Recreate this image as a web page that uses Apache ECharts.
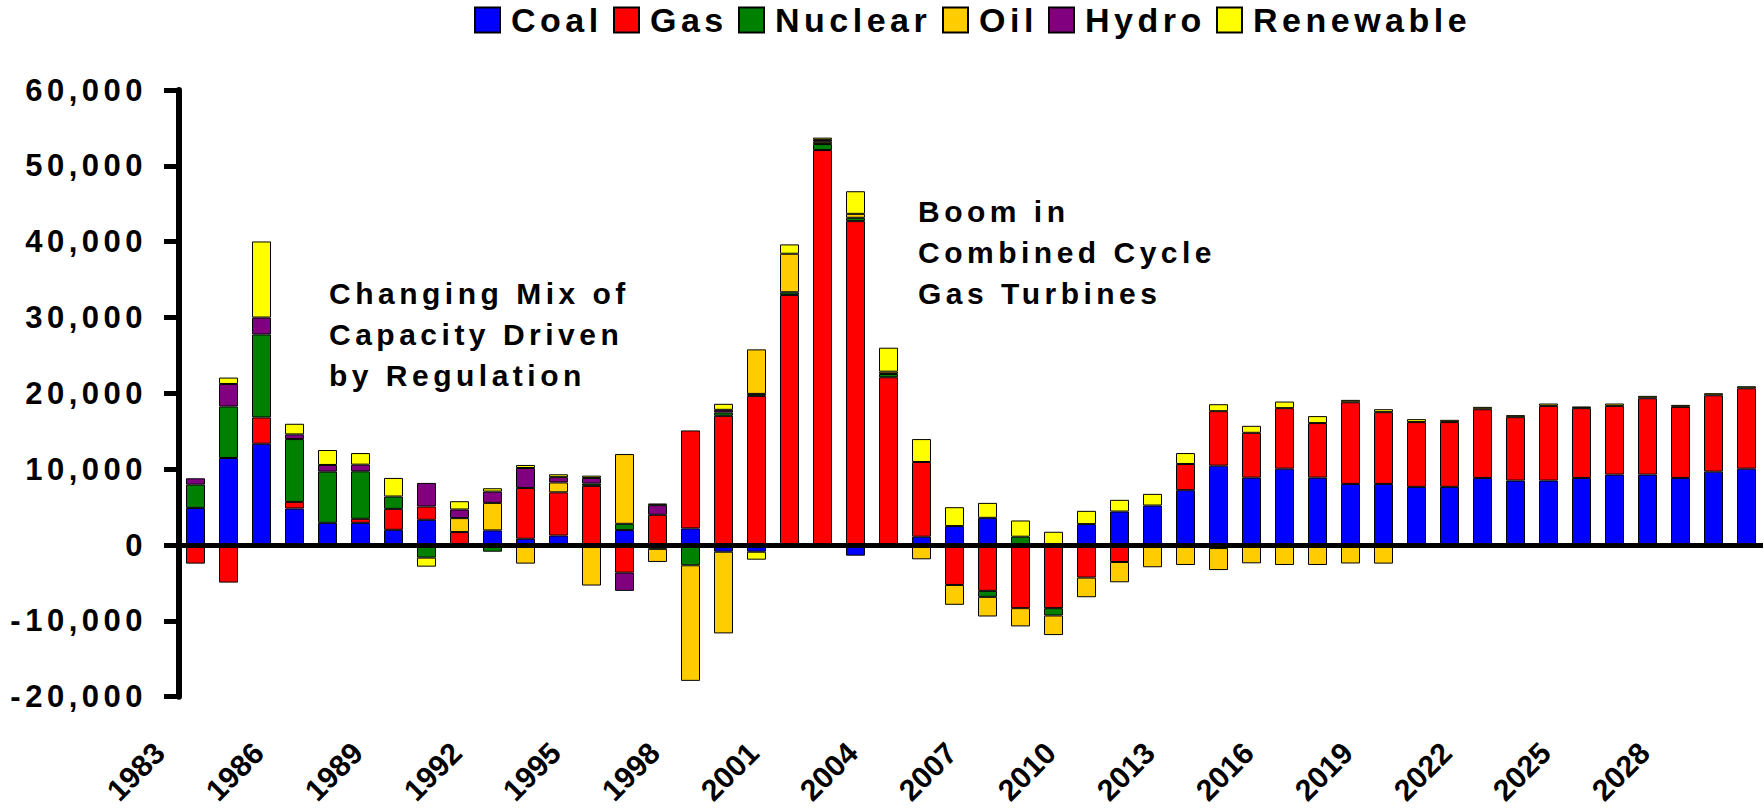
<!DOCTYPE html>
<html>
<head>
<meta charset="utf-8">
<script src="https://cdn.jsdelivr.net/npm/echarts@6/dist/echarts.min.js"></script>
<style>
  html, body { margin: 0; padding: 0; background: #fff; }
  #chart { width: 1764px; height: 808px; letter-spacing: 4.5px; }
  /* the year labels are the only 30.2px texts, and they are set tight */
  #chart text[style*="30.2px"] { letter-spacing: 0; }
</style>
</head>
<body>
<div id="chart"></div>
<script>
const years = [
  "1983", "1984", "1985", "1986", "1987", "1988", "1989", "1990", "1991", "1992",
  "1993", "1994", "1995", "1996", "1997", "1998", "1999", "2000", "2001", "2002",
  "2003", "2004", "2005", "2006", "2007", "2008", "2009", "2010", "2011", "2012",
  "2013", "2014", "2015", "2016", "2017", "2018", "2019", "2020", "2021", "2022",
  "2023", "2024", "2025", "2026", "2027", "2028", "2029", "2030"
]

// capacity change by fuel, MW
const coal = [
  4900, 11480, 13360, 4820, 2930, 2930, 2010, 3330, 0, 1930,
  830, 1250, 0, 1970, 0, 2190, -880, -880, 0, 0,
  -1400, 0, 1100, 2500, 3590, 0, 0, 2760, 4420, 5210,
  7230, 10470, 8890, 10070, 8890, 8060, 8060, 7670, 7670, 8850,
  8500, 8500, 8850, 9290, 9290, 8850, 9680, 10070
]
const gas = [
  -2450, -4950, 3460, 870, 0, 530, 2760, 1750, 1710, 0,
  6700, 5700, 7800, -3640, 3990, 12920, 17040, 19670, 32980, 52080,
  42710, 22120, 9850, -5260, -6040, -8320, -8320, -4290, -2230, 0,
  3460, 7180, 5910, 7980, 7190, 10770, 9460, 8540, 8540, 9060,
  8360, 9850, 9200, 9060, 10070, 9370, 10070, 10600
]
const nuclear = [
  3070, 6790, 10950, 8280, 6750, 6260, 1630, -1660, 0, -880,
  0, 0, 300, 830, -500, -2670, 440, 260, 350, 790,
  440, 440, 0, 0, -790, 1100, -970, 0, 0, 0,
  0, -400, 0, 0, 0, 0, 0, 0, 0, 0,
  0, 0, 0, 0, 0, 0, 0, 0
]
const oil = [
  0, 0, 0, 0, 0, 0, 0, 0, 1840, 3630,
  -2450, 1300, -5340, 9200, -1730, -15240, -10770, 5870, 5080, 300,
  520, 300, -1880, -2620, -2590, -2410, -2580, -2590, -2680, -2930,
  -2630, -2900, -2410, -2630, -2630, -2430, -2450, 0, 0, 0,
  0, 0, 0, 0, 0, 0, 0, 0
]
const hydro = [
  830, 2970, 2230, 620, 880, 880, 0, 3110, 1140, 1490,
  2630, 700, 750, -2400, 1270, 0, 350, 0, 0, 250,
  0, 0, 0, 0, 0, 0, 0, 0, 0, 0,
  0, 0, 0, 0, 0, 0, 0, 0, 0, 0,
  0, 0, 0, 0, 0, 0, 0, 0
]
const renewable = [
  0, 840, 10030, 1400, 1970, 1530, 2450, -1190, 1090, 440,
  400, 380, 300, 0, 220, 0, 790, -1050, 1230, 300,
  2980, 3160, 3020, 2490, 1970, 2140, 1750, 1750, 1540, 1540,
  1440, 920, 920, 870, 920, 310, 390, 390, 300, 310,
  270, 310, 220, 310, 310, 260, 270, 270
]

const fuels = [
  { name: "Coal", values: coal, color: "#0000ff" },
  { name: "Gas", values: gas, color: "#ff0000" },
  { name: "Nuclear", values: nuclear, color: "#008000" },
  { name: "Oil", values: oil, color: "#ffcc00" },
  { name: "Hydro", values: hydro, color: "#800080" },
  { name: "Renewable", values: renewable, color: "#ffff00" }
]

const FONT = '"Liberation Sans", Arial, sans-serif'
const SPACING = 4.5 // css letter-spacing on the container
const LEGEND_SIZE = 34

// canvas measuring knows nothing about the css letter-spacing, so give legend texts their real width
function spacedWidth(text, size) {
  const ctx = document.createElement("canvas").getContext("2d")
  ctx.font = "bold " + size + "px " + FONT
  return Math.ceil(ctx.measureText(text).width + text.length * SPACING)
}

const chart = echarts.init(document.getElementById("chart"), null, { renderer: "svg" })

chart.setOption({
  animation: false,
  textStyle: { fontFamily: FONT, fontWeight: "bold", color: "#000" },
  legend: {
    top: 3,
    left: 474,
    padding: 0,
    icon: "rect",
    itemWidth: 25,
    itemHeight: 25,
    itemGap: 10,
    textStyle: { fontSize: LEGEND_SIZE, fontWeight: "bold", color: "#000" },
    data: fuels.map(f => ({
      name: f.name,
      textStyle: {
        width: spacedWidth(f.name, LEGEND_SIZE),
        padding: [0, 0, 0, 6],
        backgroundColor: "rgba(255,255,255,0)"
      }
    }))
  },
  grid: { left: 179, right: 1, top: 90, bottom: 110, containLabel: false },
  xAxis: {
    type: "category",
    data: years,
    axisLine: { show: false, onZero: false },
    axisTick: { show: false },
    axisLabel: {
      interval: 2,
      rotate: 45,
      margin: 15,
      padding: [0, 51, 0, 0],
      fontSize: 30.2,
      fontWeight: "bold",
      color: "#000"
    }
  },
  yAxis: {
    type: "value",
    min: -20000,
    max: 60000,
    interval: 10000,
    axisLine: { show: true, lineStyle: { color: "#000", width: 6 } },
    axisTick: { show: true, length: 15, lineStyle: { color: "#000", width: 5 } },
    splitLine: { show: false },
    axisLabel: {
      margin: 32,
      fontSize: 31,
      fontWeight: "bold",
      color: "#000",
      formatter: v => v.toLocaleString("en-US")
    }
  },
  graphic: [
    {
      type: "text",
      left: 329,
      top: 273,
      style: {
        text: "Changing Mix of\nCapacity Driven\nby Regulation",
        font: "bold 30px " + FONT,
        lineHeight: 41,
        fill: "#000"
      }
    },
    {
      type: "text",
      left: 918,
      top: 191,
      style: {
        text: "Boom in\nCombined Cycle\nGas Turbines",
        font: "bold 30px " + FONT,
        lineHeight: 41,
        fill: "#000"
      }
    }
  ],
  series: fuels.map((f, i) => ({
    name: f.name,
    type: "bar",
    stack: "total",
    barWidth: 19,
    itemStyle: { color: f.color, borderColor: "#000", borderWidth: 1 },
    data: f.values.map(v => (v === 0 ? "-" : v)),
    markLine: i === 0 ? {
      silent: true,
      symbol: "none",
      label: { show: false },
      lineStyle: { color: "#000", width: 5, type: "solid" },
      data: [{ yAxis: 0 }]
    } : undefined
  }))
})
</script>
</body>
</html>
